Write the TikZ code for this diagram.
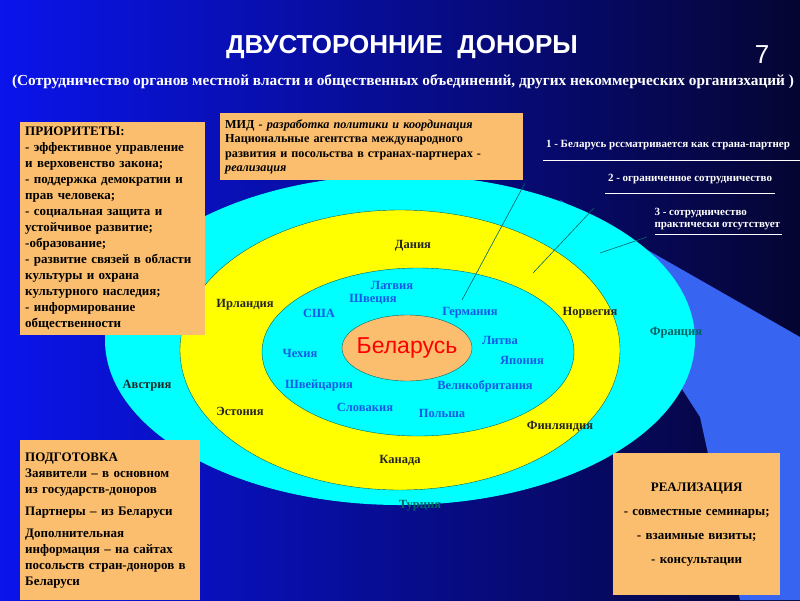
\documentclass[tikz,border=0pt]{standalone}
\usepackage{fontspec}
\setmainfont{Liberation Serif}
\newfontfamily\hd{Liberation Sans}
\definecolor{bx}{RGB}{250,190,110}
\definecolor{bgl}{RGB}{10,20,235}
\definecolor{bgr}{RGB}{5,5,50}
\definecolor{wedge}{RGB}{55,100,240}
\definecolor{cy}{RGB}{0,255,255}
\definecolor{ye}{RGB}{255,255,0}
\definecolor{tl}{RGB}{0,100,100}
\definecolor{ib}{RGB}{20,90,230}
\begin{document}
\begin{tikzpicture}[x=1pt,y=-1pt,
  box/.style={fill=bx,draw=none,inner sep=5pt,anchor=north west,align=left,font=\bfseries\fontsize{13}{16}\selectfont},
  ct/.style={font=\bfseries\fontsize{12.5}{13}\selectfont,text=black!85},
  cc/.style={font=\bfseries\fontsize{12.5}{13}\selectfont,text=tl},
  ci/.style={font=\bfseries\fontsize{12.5}{13}\selectfont,text=ib,inner sep=1pt},
  lead/.style={draw=tl,line width=0.6pt},
  ul/.style={draw=white,line width=0.8pt},
  lg/.style={font=\bfseries\fontsize{11}{12}\selectfont,text=white}]
\shade[left color=bgl,right color=bgr] (0,0) rectangle (800,600);
\useasboundingbox (0,0) rectangle (800,600);
\fill[wedge] (560,200) -- (800,337) -- (800,600) -- (740,600) -- (700,417) -- cycle;
\fill[cy] (400,340) ellipse [x radius=295,y radius=165];
\fill[ye,draw=tl] (400,350) ellipse [x radius=220,y radius=140];
\fill[cy,draw=tl] (418,352) ellipse [x radius=156,y radius=84];
\fill[bx,draw=tl] (407,348) ellipse [x radius=65,y radius=33];
\node[font=\hd\fontsize{23}{26}\selectfont,text=red] (bel) at (407,348) {Беларусь};
\node[font=\hd\bfseries\fontsize{26}{28}\selectfont,text=white] (t) at (402,47) {ДВУСТОРОННИЕ\ \ ДОНОРЫ};
\node[font=\hd\fontsize{26}{28}\selectfont,text=white] (n7) at (762,55) {7};
\node[font=\bfseries\fontsize{15.3}{17}\selectfont,text=white] (sub) at (403,82) {(Сотрудничество органов местной власти и общественных объединений, других некоммерческих организхаций )};
\node[box,text width=175pt,minimum height=213pt] (pr) at (20,122) {ПРИОРИТЕТЫ:\\- эффективное управление\\и верховенство закона;\\- поддержка демократии и\\прав человека;\\- социальная защита и\\устойчивое развитие;\\-образование;\\- развитие связей в области\\культуры и охрана\\культурного наследия;\\- информирование\\общественности};
\node[box,text width=297pt,minimum height=67pt,font=\bfseries\fontsize{12.2}{14.5}\selectfont,inner sep=3pt] (mid) at (220,113) {\hspace*{2pt}МИД \textit{- разработка политики и координация}\\\hspace*{2pt}Национальные агентства международного\\\hspace*{2pt}развития и посольства в странах-партнерах -\\\hspace*{2pt}\textit{реализация}};
\node[box,text width=170pt,minimum height=160pt,font=\bfseries\fontsize{13}{16}\selectfont] (pod) at (20,440) {ПОДГОТОВКА\\Заявители – в основном\\из государств-доноров\\[6pt]Партнеры – из Беларуси\\[6pt]Дополнительная\\информация – на сайтах\\посольств стран-доноров в\\Беларуси};
\node[box,text width=157pt,minimum height=142pt,align=center,font=\bfseries\fontsize{13}{24}\selectfont] (real) at (613,453) {РЕАЛИЗАЦИЯ\\- совместные семинары;\\- взаимные визиты;\\- консультации};
\node[lg] (l1) at (668,145) {1 - Беларусь рссматривается как страна-партнер};
\coordinate (u1a) at (543,160); \coordinate (u1b) at (800,160);
\draw[ul] (u1a) -- (u1b);
\node[lg] (l2) at (690,179) {2 - ограниченное сотрудничество};
\coordinate (u2a) at (605,193); \coordinate (u2b) at (775,193);
\draw[ul] (u2a) -- (u2b);
\node[lg,align=left,anchor=west] (l3) at (651,219) {3 - сотрудничество\\практически отсутствует};
\coordinate (u3a) at (655,234); \coordinate (u3b) at (782,234);
\draw[ul] (u3a) -- (u3b);
\coordinate (a1) at (525,183); \coordinate (b1) at (462,300);
\coordinate (a2) at (594,208); \coordinate (b2) at (533,273);
\coordinate (a3) at (647,237); \coordinate (b3) at (600,253);
\draw[lead] (a1) -- (b1); \draw[lead] (a2) -- (b2); \draw[lead] (a3) -- (b3);
\node[ct] (dk) at (413,246) {Дания};
\node[ct] (ie) at (245,305) {Ирландия};
\node[ct] (no) at (590,313) {Норвегия};
\node[cc] (fr) at (676,333) {Франция};
\node[ct] (at) at (147,386) {Австрия};
\node[ct] (ee) at (240,411) {Эстония};
\node[ct] (fi) at (560,426) {Финляндия};
\node[ct] (ca) at (400,460) {Канада};
\node[cc] (tr) at (420,506) {Турция};
\node[ci] (lv) at (392,285) {Латвия};
\node[ci] (se) at (373,299) {Швеция};
\node[ci] (us) at (319,313) {США};
\node[ci] (de) at (470,313) {Германия};
\node[ci] (lt) at (500,340) {Литва};
\node[ci] (jp) at (522,360) {Япония};
\node[ci] (cz) at (300,353) {Чехия};
\node[ci] (ch) at (319,386) {Швейцария};
\node[ci] (gb) at (485,386) {Великобритания};
\node[ci] (sk) at (365,407) {Словакия};
\node[ci] (pl) at (442,413) {Польша};
\end{tikzpicture}
\end{document}
